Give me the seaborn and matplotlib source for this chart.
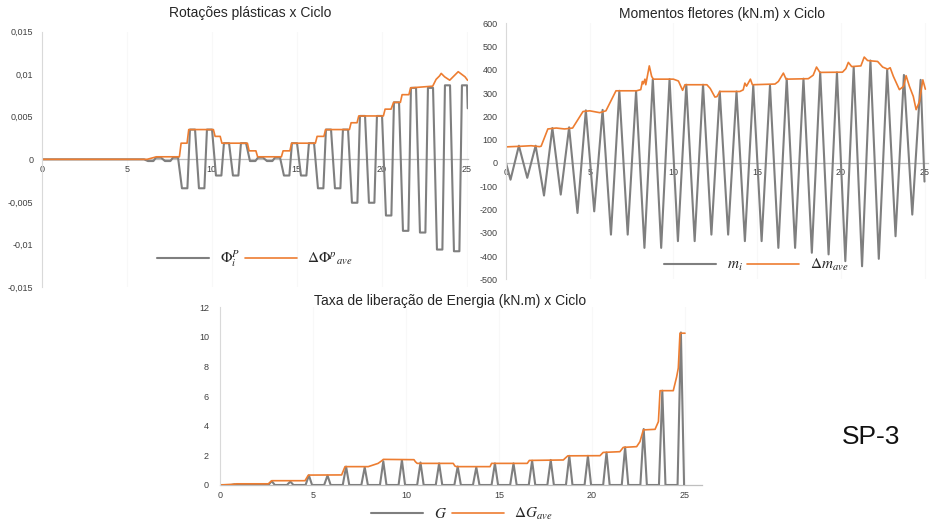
import pandas as pd
import seaborn as sns
import matplotlib.pyplot as plt
from matplotlib.ticker import FuncFormatter

cycles = list(range(25))

# rotações plásticas: patamar negativo / positivo de cada ciclo
phi_neg = [0, 0, 0, 0, 0, 0, -0.0002, -0.0002, -0.0034, -0.0034, -0.0019, -0.0019, -0.0002,
           -0.0002, -0.0019, -0.0019, -0.0034, -0.0034, -0.0051, -0.0051, -0.0066, -0.0084,
           -0.0086, -0.0106, -0.0108]
phi_pos = [0, 0, 0, 0, 0, 0, 0.0002, 0.0002, 0.0035, 0.0035, 0.0019, 0.0019, 0.0002, 0.0002,
           0.0019, 0.0019, 0.0035, 0.0035, 0.0051, 0.0051, 0.0067, 0.0084, 0.0084, 0.0087, 0.0087]
phi_phase = [0.25, 0.57, 0.72, 1.02]
phi_end = [25.06, 0.006]

phi_ave_x = [0, 6.2, 6.75, 8.1, 8.2, 8.55, 8.65, 10.1, 10.2, 10.5, 10.6, 12.1, 12.2, 12.6, 12.7,
             14.1, 14.2, 14.6, 14.7, 16.1, 16.2, 16.6, 16.7, 18.1, 18.2, 18.55, 18.65, 20.1, 20.2,
             20.55, 20.7, 21.1, 21.2, 21.6, 21.7, 23.0, 23.2, 23.4, 23.5, 23.7, 24.0, 24.2, 24.5,
             24.7, 24.9, 25.05]
phi_ave_y = [0, 0, 0.0003, 0.0003, 0.0019, 0.0019, 0.0035, 0.0035, 0.0027, 0.0027, 0.0019, 0.0019,
             0.001, 0.001, 0.0003, 0.0003, 0.001, 0.001, 0.0019, 0.0019, 0.0027, 0.0027, 0.0035,
             0.0035, 0.0043, 0.0043, 0.0051, 0.0051, 0.0059, 0.0059, 0.0067, 0.0067, 0.0076,
             0.0076, 0.0084, 0.0086, 0.0094, 0.0098, 0.0101, 0.0097, 0.0093, 0.0097, 0.0103,
             0.0100, 0.0097, 0.0093]

# momentos fletores (kN.m): pico negativo / positivo de cada ciclo
m_neg = [-72, -64, -140, -136, -215, -208, -308, -308, -365, -365, -336, -336, -308, -308, -336,
         -336, -365, -365, -386, -393, -422, -444, -412, -315, -222]
m_pos = [74, 74, 150, 153, 226, 228, 310, 308, 360, 360, 336, 336, 307, 307, 333, 333, 362, 362,
         389, 389, 412, 440, 400, 378, 357]
m_phase = [0.27, 0.77]
m_end = [25.0, -80]

m_ave_x = [0, 0, 1.0, 1.5, 2.0, 2.1, 2.5, 3.0, 3.5, 3.98, 4.6, 5.0, 5.6, 5.97, 6.57, 7.8, 8.05,
           8.15, 8.2, 8.3, 8.35, 8.56, 8.7, 8.8, 10.0, 10.3, 10.55, 10.69, 12.0, 12.2, 12.48, 12.6,
           12.78, 13.97, 14.17, 14.27, 14.37, 14.6, 14.72, 16.07, 16.27, 16.57, 16.73, 18.06,
           18.35, 18.55, 18.75, 20.1, 20.3, 20.45, 20.65, 21.2, 21.4, 21.6, 22.2, 22.5, 22.8,
           22.95, 23.14, 23.5, 23.75, 23.9, 24.1, 24.33, 24.5, 24.7, 24.9, 25.05]
m_ave_y = [0, 69, 72, 74, 70, 72, 146, 150, 146, 150, 221, 224, 216, 224, 310, 310, 315, 350, 340,
           360, 336, 417, 372, 360, 360, 352, 312, 336, 336, 320, 283, 285, 307, 307, 314, 343,
           330, 360, 336, 339, 350, 386, 360, 362, 377, 412, 389, 390, 405, 432, 414, 417, 455,
           440, 436, 412, 403, 409, 372, 315, 329, 375, 329, 286, 229, 264, 357, 317]

# taxa de liberação de energia: pico de cada ciclo
g_peak = [0.05, 0.05, 0.26, 0.23, 0.65, 0.64, 1.24, 1.2, 1.6, 1.68, 1.52, 1.46, 1.25, 1.2, 1.46,
          1.46, 1.64, 1.69, 1.97, 1.97, 2.2, 2.55, 3.78, 6.37, 10.3]
g_phase = [0.6, 0.78, 0.95]

g_ave_x = [0, 0.72, 0.9, 2.6, 2.78, 4.57, 4.75, 6.54, 6.72, 7.97, 8.5, 8.7, 8.78, 10.43, 10.5,
           10.6, 12.54, 12.63, 12.72, 14.52, 14.6, 16.52, 16.63, 18.46, 18.55, 18.7, 20.43, 20.6,
           21.5, 21.68, 22.4, 22.58, 22.76, 23.39, 23.57, 23.66, 24.37, 24.55, 24.64, 24.73, 25.0]
g_ave_y = [0, 0.05, 0.08, 0.08, 0.29, 0.29, 0.67, 0.68, 1.24, 1.24, 1.46, 1.64, 1.73, 1.71, 1.58,
           1.46, 1.46, 1.28, 1.24, 1.24, 1.46, 1.46, 1.66, 1.69, 1.8, 1.97, 1.98, 2.2, 2.25, 2.54,
           2.59, 2.93, 3.72, 3.76, 4.28, 6.37, 6.37, 7.3, 7.9, 10.25, 10.25]

# build polylines from the per-cycle values
phi_x, phi_y = [0], [0]
for n in cycles:
    phi_x += [n + p for p in phi_phase]
    phi_y += [phi_neg[n], phi_neg[n], phi_pos[n], phi_pos[n]]
phi_x.append(phi_end[0])
phi_y.append(phi_end[1])

m_x, m_y = [0], [0]
for n in cycles:
    m_x += [n + p for p in m_phase]
    m_y += [m_neg[n], m_pos[n]]
m_x.append(m_end[0])
m_y.append(m_end[1])

g_x, g_y = [0], [0]
for n in cycles:
    g_x += [n + p for p in g_phase]
    g_y += [0, g_peak[n], 0]

sns.set_style('white')
plt.rcParams['font.family'] = ['Liberation Sans', 'DejaVu Sans']
plt.rcParams['mathtext.fontset'] = 'stix'

GREY = '#7f7f7f'
ORANGE = '#ed7d31'
W, H = 930, 526

fig = plt.figure(figsize=(9.3, 5.26), dpi=100)


def add_ax(x0, y_top, y_bot, px_per_unit, xmax):
    return fig.add_axes([x0 / W, 1 - y_bot / H, xmax * px_per_unit / W, (y_bot - y_top) / H])


def style(ax, xmax, ylim, yticks, ypad):
    ax.set_xlim(0, xmax)
    ax.set_ylim(*ylim)
    ax.set_xticks(range(0, 26, 5))
    ax.set_yticks(yticks)
    ax.yaxis.set_major_formatter(FuncFormatter(lambda v, p: f'{v:g}'.replace('.', ',')))
    for s in ['top', 'right']:
        ax.spines[s].set_visible(False)
    ax.spines['left'].set_color('#d9d9d9')
    ax.spines['left'].set_linewidth(0.8)
    ax.spines['bottom'].set_position(('data', 0))
    ax.spines['bottom'].set_color('#bfbfbf')
    ax.spines['bottom'].set_linewidth(0.9)
    ax.spines['bottom'].set_zorder(0)
    ax.tick_params(axis='both', length=0, labelsize=6.5, labelcolor='#404040')
    ax.tick_params(axis='y', pad=ypad)
    ax.tick_params(axis='x', pad=4)
    for t in range(5, 26, 5):
        ax.axvline(t, color='#f8f8f8', lw=0.8, zorder=0)
    ax.set_xlabel('')
    ax.set_ylabel('')
    ax.patch.set_alpha(0)


def draw(ax, x1, y1, x2, y2, lab1, lab2, leg_xy):
    sns.lineplot(x=x1, y=y1, ax=ax, color=GREY, lw=1.5, sort=False, estimator=None, label=lab1)
    sns.lineplot(x=x2, y=y2, ax=ax, color=ORANGE, lw=1.2, sort=False, estimator=None, label=lab2)
    ax.legend(loc='center', bbox_to_anchor=(leg_xy[0] / W, 1 - leg_xy[1] / H),
              bbox_transform=fig.transFigure, ncol=2, frameon=False, fontsize=11,
              handlelength=3.4, handletextpad=0.7, columnspacing=0.3)


# Rotações plásticas
ax1 = add_ax(41.7, 31.7, 287, 17.0, 25.1)
draw(ax1, phi_x, phi_y, phi_ave_x, phi_ave_y, r'$\mathit{\Phi}_i^P$',
     r'$\Delta\mathit{\Phi}^{p}{}_{ave}$', (255, 259))
style(ax1, 25.1, (-0.015, 0.015), [-0.015, -0.01, -0.005, 0, 0.005, 0.01, 0.015], 6)

# Momentos fletores
ax2 = add_ax(506, 23.3, 279.3, 16.74, 25.2)
draw(ax2, m_x, m_y, m_ave_x, m_ave_y, r'$m_i$', r'$\Delta m_{ave}$', (756, 265))
style(ax2, 25.2, (-500, 600), list(range(-500, 601, 100)), 6)

# Taxa de liberação de energia
ax3 = add_ax(220, 307.3, 485, 18.6, 25.9)
draw(ax3, g_x, g_y, g_ave_x, g_ave_y, r'$G$', r'$\Delta G_{ave}$', (462, 514))
style(ax3, 25.9, (0, 12), list(range(0, 13, 2)), 8)

fig.text(250 / W, 1 - 13 / H, 'Rotações plásticas x Ciclo', ha='center', va='center',
         fontsize=10, color='#262626')
fig.text(722 / W, 1 - 14 / H, 'Momentos fletores (kN.m) x Ciclo', ha='center', va='center',
         fontsize=10, color='#262626')
fig.text(450 / W, 1 - 301 / H, 'Taxa de liberação de Energia (kN.m) x Ciclo', ha='center',
         va='center', fontsize=10, color='#262626')
fig.text(871 / W, 1 - 437 / H, 'SP-3', ha='center', va='center', fontsize=19, color='#111111')

fig.savefig('out.png', dpi=100, facecolor='white')
